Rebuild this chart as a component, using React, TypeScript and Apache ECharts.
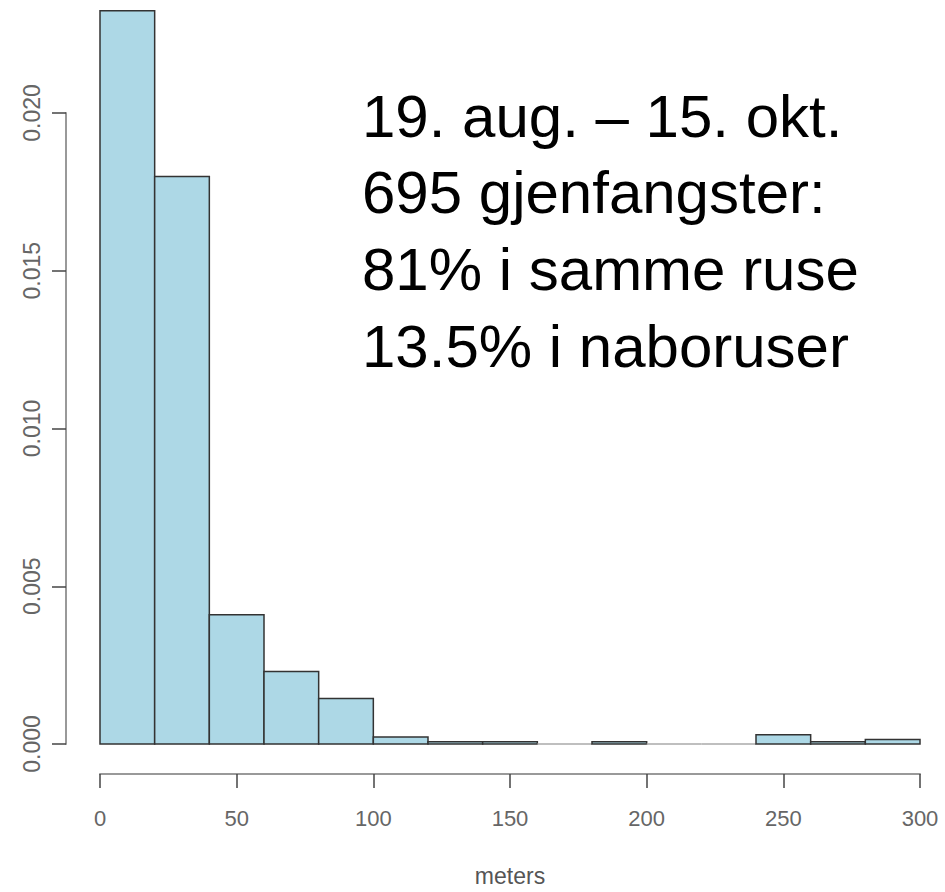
import React, { useEffect, useRef } from "react";
import * as echarts from "echarts";

const binEdges = [0, 20, 40, 60, 80, 100, 120, 140, 160, 180, 200, 220, 240, 260, 280, 300];
const densities = [0.02324, 0.01799, 0.0041, 0.0023, 0.00144, 0.00022, 0.00007, 0.00007, 0, 0.00007, 0, 0, 0.00029, 0.00007, 0.00014];
const xTicks = [0, 50, 100, 150, 200, 250, 300];
const yTicks = ["0.000", "0.005", "0.010", "0.015", "0.020"];
const xLabel = "meters";
const noteLines = ["19. aug. \u2013 15. okt.", "695 gjenfangster:", "81% i samme ruse", "13.5% i naboruser"];

export default function App() {
  const ref = useRef<HTMLDivElement>(null);
  useEffect(() => {
    if (!ref.current) return;
    const chart = echarts.init(ref.current, null, { renderer: "svg" });
    const data = densities.map((d, i) => [binEdges[i], binEdges[i + 1], d]);
    const font = "'Liberation Sans', Arial, Helvetica, sans-serif";
    chart.setOption({
      animation: false,
      backgroundColor: "#ffffff",
      grid: { left: 100, right: 25, top: 113, bottom: 141, containLabel: false },
      xAxis: {
        type: "value",
        min: xTicks[0],
        max: xTicks[xTicks.length - 1],
        interval: 50,
        offset: 30,
        splitLine: { show: false },
        axisLine: { show: true, onZero: false, lineStyle: { color: "#999", width: 2 } },
        axisTick: { show: true, length: 14, lineStyle: { color: "#444", width: 1.5 } },
        axisLabel: { color: "#666", fontSize: 22, fontFamily: font, margin: 33 },
        name: xLabel,
        nameLocation: "middle",
        nameGap: 90,
        nameTextStyle: { color: "#555", fontSize: 23, fontFamily: font },
      },
      yAxis: {
        type: "value",
        min: 0,
        max: 0.02,
        interval: 0.005,
        offset: 34,
        splitLine: { show: false },
        axisLine: { show: true, onZero: false, lineStyle: { color: "#999", width: 2 } },
        axisTick: { show: true, length: 14, lineStyle: { color: "#444", width: 1.5 } },
        axisLabel: {
          color: "#666",
          fontSize: 23,
          fontFamily: font,
          rotate: 90,
          margin: 23,
          formatter: (v: number) => yTicks[Math.round(v / 0.005)] ?? "",
        },
      },
      series: [
        {
          type: "custom",
          clip: false,
          data,
          encode: { x: [0, 1], y: 2 },
          renderItem: (params: any, api: any) => {
            const x0 = api.value(0);
            const x1 = api.value(1);
            const y = api.value(2);
            const p0 = api.coord([x0, 0]);
            const p1 = api.coord([x1, y]);
            return {
              type: "rect",
              shape: { x: p0[0], y: p1[1], width: p1[0] - p0[0], height: p0[1] - p1[1] },
              style: {
                fill: "#ADD8E6",
                stroke: y > 0 ? "#333" : "#aaa",
                lineWidth: 1.5,
              },
            };
          },
        },
      ],
      graphic: noteLines.map((t, i) => ({
        type: "text",
        left: 362,
        top: 86 + i * 76.7,
        style: {
          text: t,
          fill: "#000",
          fontSize: 60,
          fontFamily: font,
        },
      })),
    });
    return () => chart.dispose();
  }, []);
  return <div ref={ref} style={{ width: 945, height: 892, position: "absolute", left: 0, top: 0 }} />;
}
